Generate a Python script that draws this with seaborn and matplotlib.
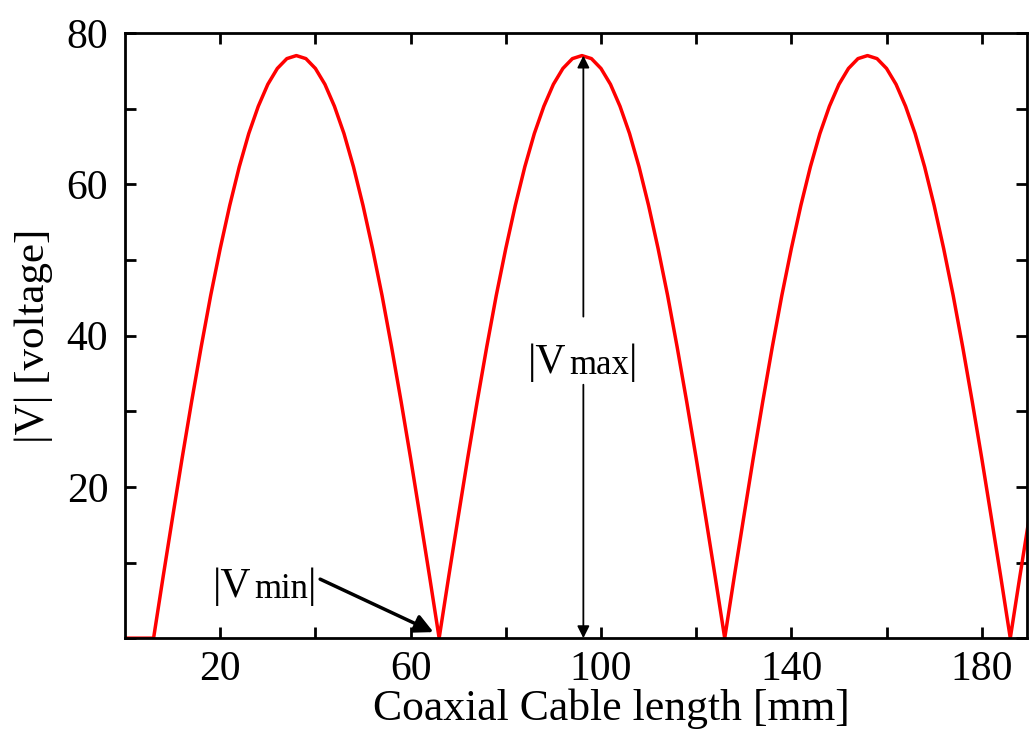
import matplotlib
matplotlib.use("Agg")
import matplotlib.pyplot as plt
import seaborn as sns
import pandas as pd

# Data
length_mm = [0, 2, 4, 6, 8, 10, 12, 14, 16, 18, 20, 22, 24, 26, 28, 30, 32, 34, 36, 38,
             40, 42, 44, 46, 48, 50, 52, 54, 56, 58, 60, 62, 64, 66, 68, 70, 72, 74, 76, 78,
             80, 82, 84, 86, 88, 90, 92, 94, 96, 98, 100, 102, 104, 106, 108, 110, 112, 114, 116, 118,
             120, 122, 124, 126, 128, 130, 132, 134, 136, 138, 140, 142, 144, 146, 148, 150, 152, 154, 156, 158,
             160, 162, 164, 166, 168, 170, 172, 174, 176, 178, 180, 182, 184, 186, 188, 190]
voltage = [0, 0, 0, 0,
           8.1, 16.0, 23.8, 31.3, 38.5, 45.3, 51.5, 57.2, 62.3, 66.7, 70.3, 73.2, 75.3, 76.6, 77.0,
           76.6, 75.3, 73.2, 70.3, 66.7, 62.3, 57.2, 51.5, 45.3, 38.5, 31.3, 23.8, 16.0, 8.1,
           0,
           8.1, 16.0, 23.8, 31.3, 38.5, 45.3, 51.5, 57.2, 62.3, 66.7, 70.3, 73.2, 75.3, 76.6, 77.0,
           76.6, 75.3, 73.2, 70.3, 66.7, 62.3, 57.2, 51.5, 45.3, 38.5, 31.3, 23.8, 16.0, 8.1,
           0,
           8.1, 16.0, 23.8, 31.3, 38.5, 45.3, 51.5, 57.2, 62.3, 66.7, 70.3, 73.2, 75.3, 76.6, 77.0,
           76.6, 75.3, 73.2, 70.3, 66.7, 62.3, 57.2, 51.5, 45.3, 38.5, 31.3, 23.8, 16.0, 8.1,
           0,
           8.1, 16.0]

x_ticks = [20, 40, 60, 80, 100, 120, 140, 160, 180]
x_tick_labels = ["20", "", "60", "", "100", "", "140", "", "180"]
y_ticks = [0, 10, 20, 30, 40, 50, 60, 70, 80]
y_tick_labels = ["", "", "20", "", "40", "", "60", "", "80"]

x_label = "Coaxial Cable length [mm]"
y_label = "|V| [voltage]"

vmax_x = 96.3
vmax_top = 77.0

sns.set_style("ticks")
plt.rcParams["font.family"] = ["Liberation Serif", "DejaVu Serif"]
plt.rcParams["text.color"] = "black"
plt.rcParams["axes.labelcolor"] = "black"

df = pd.DataFrame({"length": length_mm, "V": voltage})

fig = plt.figure(figsize=(10.29, 7.31), dpi=100)
ax = fig.add_axes([0.1215, 0.127, 0.8765, 0.828])

sns.lineplot(data=df, x="length", y="V", color="#ff0000", linewidth=2.5, ax=ax)

ax.set_xlim(0, 189.5)
ax.set_ylim(0, 80)
ax.set_xticks(x_ticks, x_tick_labels)
ax.set_yticks(y_ticks, y_tick_labels)
ax.tick_params(direction="in", length=8, width=2, top=True, right=True,
               labelsize=30, colors="black")
ax.tick_params(axis="x", pad=9)
ax.tick_params(axis="y", pad=12)
for s in ax.spines.values():
    s.set_linewidth(2)
    s.set_color("black")
    s.set_visible(True)

ax.set_xlabel(x_label, fontsize=31.5, color="black")
ax.xaxis.set_label_coords(0.539, -0.083)
ax.set_ylabel(y_label, fontsize=31, labelpad=10, color="black")

# |Vmax| arrows
ax.annotate("", xy=(vmax_x, vmax_top), xytext=(vmax_x, 42.5),
            arrowprops=dict(arrowstyle="-|>", color="black", lw=1.3,
                            mutation_scale=18, shrinkA=0, shrinkB=0))
ax.annotate("", xy=(vmax_x, 0), xytext=(vmax_x, 33.5),
            arrowprops=dict(arrowstyle="-|>", color="black", lw=1.3,
                            mutation_scale=18, shrinkA=0, shrinkB=0))


def label_V(x, y, sub):
    t1 = ax.text(x, y, "|V", fontsize=30, ha="left", va="baseline", color="black")
    t2 = ax.annotate(sub, xy=(1, 0), xycoords=t1, xytext=(2, 0), textcoords="offset points",
                     fontsize=25, ha="left", va="bottom", color="black")
    ax.annotate("|", xy=(1, 0), xycoords=t2, xytext=(0, 0), textcoords="offset points",
                fontsize=30, ha="left", va="bottom", color="black")


label_V(84.7, 35.0, "max")
label_V(18.4, 5.5, "min")

# |Vmin| arrow
ax.annotate("", xy=(64.8, 0.8), xytext=(41.0, 7.8),
            arrowprops=dict(arrowstyle="-|>", color="black", lw=2.5,
                            mutation_scale=28, shrinkA=0, shrinkB=0))

fig.savefig("out.png", dpi=100)
